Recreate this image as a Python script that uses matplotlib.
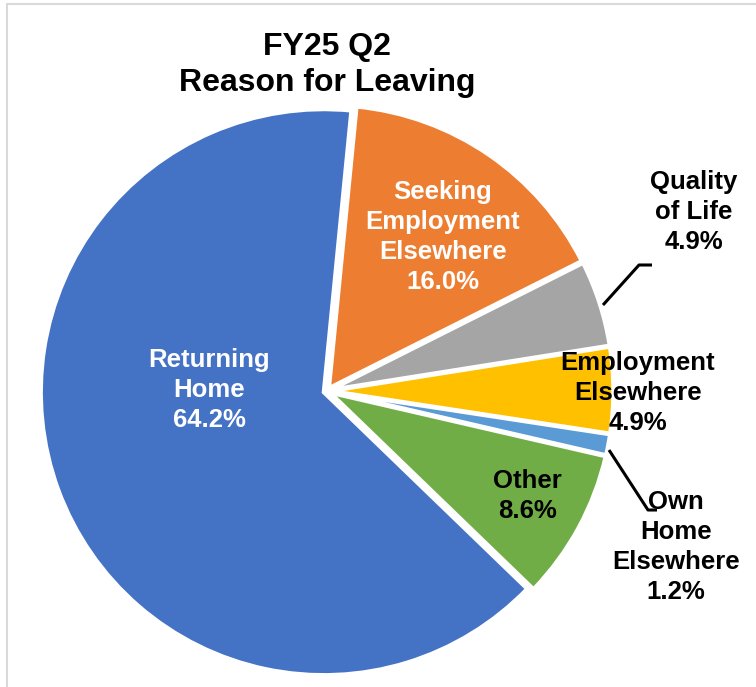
import matplotlib
matplotlib.use('Agg')
import matplotlib.pyplot as plt
import numpy as np

plt.rcParams['font.family'] = ['Liberation Sans', 'DejaVu Sans']

categories = ['Seeking\nEmployment\nElsewhere', 'Quality\nof Life', 'Employment\nElsewhere',
              'Own\nHome\nElsewhere', 'Other', 'Returning\nHome']
values = [16.0, 4.9, 4.9, 1.2, 8.6, 64.2]
colors = ['#ED7D31', '#A5A5A5', '#FFC000', '#5B9BD5', '#70AD47', '#4472C4']
text_colors = ['white', 'black', 'black', 'black', 'black', 'white']

W, H = 756, 687
cx, cy, R = 327, 391, 283  # pie centre and radius in pixels


def to_data(px, py):
    return (px - cx) / R, (cy - py) / R


fig = plt.figure(figsize=(W / 100, H / 100), dpi=100)

# light chart-area border (only left and top visible)
fig.add_artist(plt.Rectangle((7 / W, -0.1), 1.2, 1.1 - 4 / H, transform=fig.transFigure,
                             fill=False, edgecolor='#D9D9D9', linewidth=1.5))

ax = fig.add_axes([(cx - R) / W, (H - cy - R) / H, 2 * R / W, 2 * R / H])

wedges, _ = ax.pie(values, colors=colors, startangle=84.4, counterclock=False,
                   explode=[0.012] * len(values),
                   wedgeprops=dict(edgecolor='white', linewidth=3))
for w in wedges:
    w.set_clip_on(False)
ax.set_xlim(-1, 1)
ax.set_ylim(-1, 1)
ax.axis('off')

labels = [f'{c}\n{v:.1f}%' for c, v in zip(categories, values)]
label_pos = [(443, 237), (694, 212), (638, 393), (676, 547), (527, 496), (209, 390)]

for lab, pos, tc in zip(labels, label_pos, text_colors):
    x, y = to_data(*pos)
    ax.text(x, y, lab, ha='center', va='center', color=tc, fontsize=18.5,
            fontweight='bold', linespacing=1.32, clip_on=False)

# leader lines for the small outside labels
leaders = [
    [(603, 305), (639, 265), (652, 265)],
    [(609, 450), (648, 510), (657, 510)],
]
for pts in leaders:
    xs, ys = zip(*[to_data(*p) for p in pts])
    ax.plot(xs, ys, color='black', linewidth=2.2, clip_on=False, solid_capstyle='butt')

fig.text(cx / W, 1 - 65 / H, 'FY25 Q2\nReason for Leaving', ha='center', va='center',
         fontsize=23, fontweight='bold', linespacing=1.22)

plt.savefig('out.png', dpi=100)
plt.close()
